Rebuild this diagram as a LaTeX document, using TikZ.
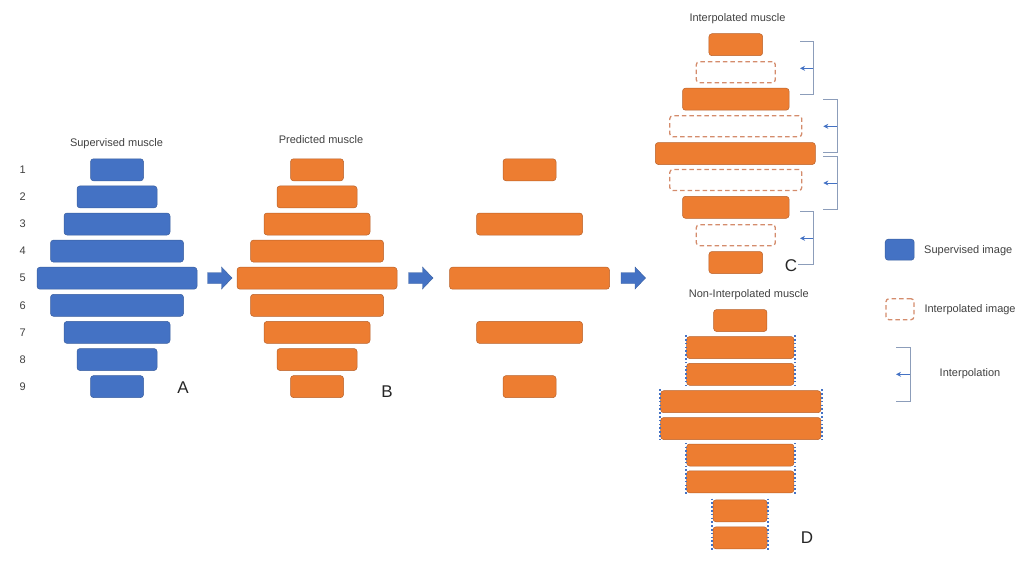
\documentclass[tikz,border=0pt]{standalone}
\usepackage{fontspec}
\setmainfont{Liberation Sans}
\usetikzlibrary{arrows.meta}
\definecolor{orf}{HTML}{ED7D31}
\definecolor{ord}{HTML}{B8612A}
\definecolor{blf}{HTML}{4472C4}
\definecolor{bld}{HTML}{3A5F9F}
\definecolor{dsh}{RGB}{212,140,108}
\definecolor{brk}{HTML}{8C9DBA}
\definecolor{txt}{HTML}{404040}
\tikzset{
  bar/.style={rounded corners=3pt, minimum height=22pt, inner sep=0pt, draw=ord, line width=0.5pt, fill=orf},
  bbar/.style={bar, fill=blf, draw=bld},
  dbar/.style={rounded corners=3pt, minimum height=21pt, inner sep=0pt, draw=dsh, line width=1.3pt, dash pattern=on 4.5pt off 3pt},
  lbl/.style={font=\fontsize{11}{13}\selectfont, text=txt, inner sep=0pt},
  big/.style={font=\fontsize{17}{20}\selectfont, text=black!85, inner sep=0pt},
  blockarrow/.style={fill=blf, draw=bld, line width=0.4pt},
  grp/.style={draw=blf, line width=1.6pt, dash pattern=on 1.6pt off 2.2pt},
  brack/.style={draw=brk, line width=0.8pt},
  iarrow/.style={draw=blf, line width=0.8pt, -{Stealth[length=5pt,width=5pt]}}
}
\begin{document}
\begin{tikzpicture}[x=1pt,y=-1pt]
\useasboundingbox (0,0) rectangle (1036,566);
% Column A (supervised)
\node[lbl] (tA) at (116.5,143.5) {Supervised muscle};
\foreach \i/\w in {1/53,2/80,3/106,4/133,5/160,6/133,7/106,8/80,9/53}{
  \node[bbar, minimum width=\w pt] (a\i) at (117,{169.8+27.1*(\i-1)}) {};
  \node[lbl] (n\i) at (22.7,{169.8+27.1*(\i-1)}) {\i};
}
\node[big] (lA) at (183,387.5) {A};
% Column B (predicted)
\node[lbl] (tB) at (321,140) {Predicted muscle};
\foreach \i/\w in {1/53,2/80,3/106,4/133,5/160,6/133,7/106,8/80,9/53}{
  \node[bar, minimum width=\w pt] (b\i) at (317,{169.8+27.1*(\i-1)}) {};
}
\node[big] (lB) at (387,392) {B};
% Column C (sparse)
\foreach \i/\w in {1/53,3/106,5/160,7/106,9/53}{
  \node[bar, minimum width=\w pt] (c\i) at (529.5,{169.8+27.1*(\i-1)}) {};
}
% block arrows
\foreach \n/\x in {ar1/207.5,ar2/408.5,ar3/621}{
  \coordinate (\n) at (\x,278);
  \draw[blockarrow] ([shift={(0,-5.5)}]\n) -- ++(14,0) -- ++(0,-5.5) -- ++(10.5,11) -- ++(-10.5,11) -- ++(0,-5.5) -- ++(-14,0) -- cycle;
}
% Interpolated muscle
\node[lbl] (tC) at (737.5,18.5) {Interpolated muscle};
\node[bar, minimum width=53.7pt] (i1) at (735.8,44.7) {};
\node[dbar, minimum width=79pt] (i2) at (735.8,72.2) {};
\node[bar, minimum width=106.6pt] (i3) at (735.8,99.2) {};
\node[dbar, minimum width=132pt] (i4) at (735.8,126.2) {};
\node[bar, minimum width=160pt] (i5) at (735.3,153.5) {};
\node[dbar, minimum width=132pt] (i6) at (735.8,180) {};
\node[bar, minimum width=106.6pt] (i7) at (735.8,207.3) {};
\node[dbar, minimum width=79pt] (i8) at (735.8,235.2) {};
\node[bar, minimum width=53.7pt] (i9) at (735.8,262.5) {};
% brackets
\draw[brack] (800,41.7) -- (813.3,41.7) -- (813.3,94.3) -- (800,94.3);
\draw[iarrow] (813.3,68.3) -- (800,68.3);
\draw[brack] (823.3,99.3) -- (837.3,99.3) -- (837.3,152) -- (823.3,152);
\draw[iarrow] (837.3,126.3) -- (823.3,126.3);
\draw[brack] (823.3,156.3) -- (837.3,156.3) -- (837.3,209.3) -- (823.3,209.3);
\draw[iarrow] (837.3,183) -- (823.3,183);
\draw[brack] (800,211) -- (813.3,211) -- (813.3,264.3) -- (798,264.3);
\draw[iarrow] (813.3,238.3) -- (800,238.3);
\node[big] (lC) at (791,266) {C};
% Non-interpolated muscle
\node[lbl] (tD) at (748.8,294.5) {Non-Interpolated muscle};
\node[bar, minimum width=53.3pt] (d1) at (740.3,320.5) {};
\node[bar, minimum width=107.3pt] (d2) at (740.3,347.5) {};
\node[bar, minimum width=107.3pt] (d3) at (740.3,374.3) {};
\node[bar, minimum width=160.3pt] (d4) at (740.8,401.7) {};
\node[bar, minimum width=160.3pt] (d5) at (740.8,428.5) {};
\node[bar, minimum width=107.3pt] (d6) at (740.3,455) {};
\node[bar, minimum width=107.3pt] (d7) at (740.3,481.8) {};
\node[bar, minimum width=54pt] (d8) at (740,510.8) {};
\node[bar, minimum width=54pt] (d9) at (740,537.8) {};
\foreach \p/\q in {d2/d3,d4/d5,d6/d7,d8/d9}{
  \draw[grp] ([shift={(-0.6,-1)}]\p.north west) -- ([shift={(-0.6,1)}]\q.south west);
  \draw[grp] ([shift={(0.6,-1)}]\p.north east) -- ([shift={(0.6,1)}]\q.south east);
}
\node[big] (lD) at (807,538) {D};
% Legend
\node[bbar, minimum width=29pt, minimum height=21pt] (leg1) at (899.7,249.7) {};
\node[lbl, anchor=west] (leg1t) at (924,250.5) {Supervised image};
\node[dbar, minimum width=28pt, minimum height=21pt] (leg2) at (900,309.2) {};
\node[lbl, anchor=west] (leg2t) at (924.3,309.5) {Interpolated image};
\draw[brack] (896,347.7) -- (910,347.7) -- (910,401) -- (896,401);
\draw[iarrow] (910,374.3) -- (896,374.3);
\node[lbl] (leg3t) at (970,374) {Interpolation};
\end{tikzpicture}
\end{document}
